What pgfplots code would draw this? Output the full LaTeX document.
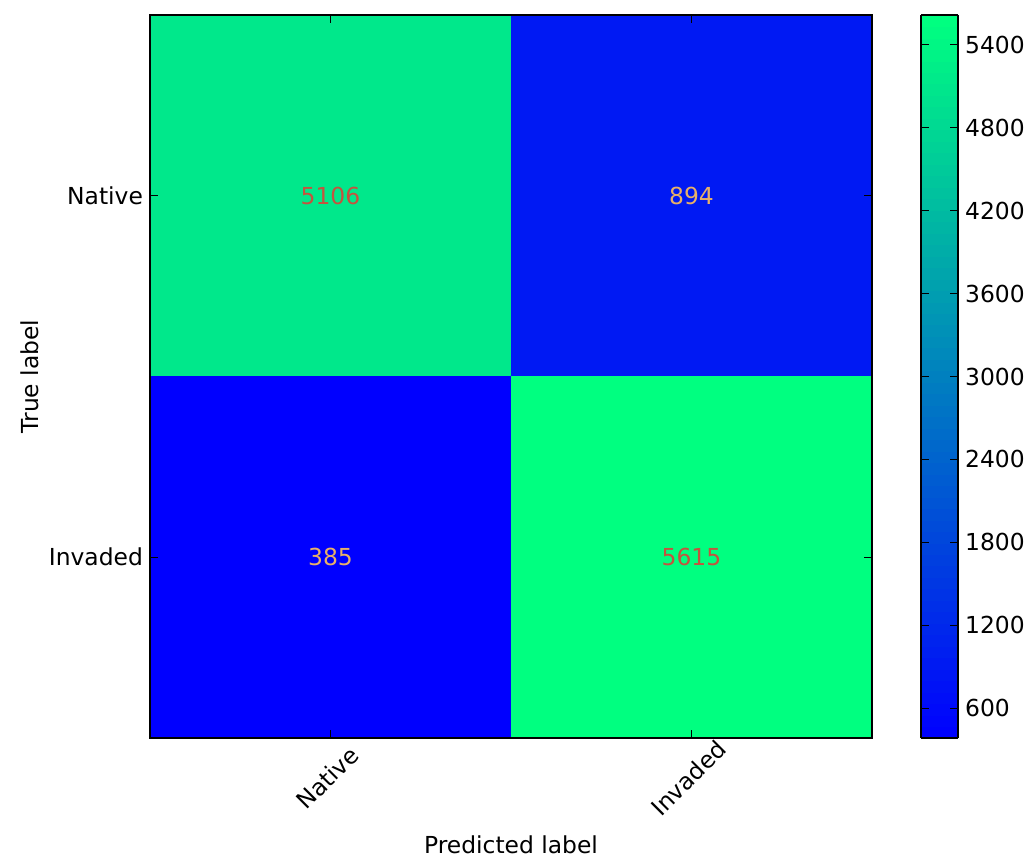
\documentclass[border=0pt]{standalone}
\usepackage{pgfplots}
\pgfplotsset{compat=1.18}
\usepackage{fontspec}
\setmainfont{DejaVu Sans}
\definecolor{txtgreen}{RGB}{196,84,62}
\definecolor{txtblue}{RGB}{232,176,104}
\begin{document}
\begin{tikzpicture}
\path[use as bounding box] (-75pt,-60.5pt) rectangle (439.5pt,369pt);
\begin{axis}[
  at={(0,0)}, anchor=south west,
  width=361pt, height=361.5pt, scale only axis,
  axis on top,
  axis line style={black, line width=0.6pt},
  font=\fontsize{11.7}{14}\selectfont,
  colormap={winter}{rgb=(0,0,1) rgb=(0,1,0.5)},
  point meta min=385, point meta max=5615,
  xmin=-0.5, xmax=1.5, ymin=-0.5, ymax=1.5,
  y dir=reverse,
  xtick={0,1}, ytick={0,1},
  xticklabels={Native,Invaded}, yticklabels={Native,Invaded},
  tick align=inside, major tick length=4pt,
  tick style={black, line width=0.5pt},
  xtick pos=both, ytick pos=both,
  xticklabel pos=bottom, yticklabel pos=left,
  xticklabel style={yshift=-20pt, xshift=-1.5pt, rotate=45, anchor=center},
  yticklabel style={xshift=0pt},
  xlabel={Predicted label}, ylabel={True label},
  xlabel style={at={(axis description cs:0.5,0)}, anchor=center, yshift=-53.5pt},
  ylabel style={at={(axis description cs:-0.166,0.5)}, anchor=center},
  colorbar sampled,
  colorbar style={
    width=18.5pt,
    samples=64,
    at={(parent axis.north east)}, anchor=north west, xshift=16pt,
    axis on top,
    axis line style={black, line width=0.6pt},
    ytick={600,1200,...,5400},
    tick align=inside, major tick length=4pt,
    tick style={black, line width=0.5pt},
    yticklabel style={font=\fontsize{11.7}{14}\selectfont, /pgf/number format/1000 sep={}, /pgf/number format/assume math mode=true},
  },
]
\addplot[matrix plot*, mesh/cols=2, point meta=explicit] table[meta=C] {
x y C
0 0 5106
1 0 894
0 1 385
1 1 5615
};
\addplot[only marks, mark=none, nodes near coords, point meta=explicit symbolic,
  nodes near coords style={anchor=center, text=txtgreen, font=\fontsize{11.7}{14}\selectfont}]
  table[meta=L] {
x y L
0 0 5106
1 1 5615
};
\addplot[only marks, mark=none, nodes near coords, point meta=explicit symbolic,
  nodes near coords style={anchor=center, text=txtblue, font=\fontsize{11.7}{14}\selectfont}]
  table[meta=L] {
x y L
1 0 894
0 1 385
};
\end{axis}
\end{tikzpicture}
\end{document}
